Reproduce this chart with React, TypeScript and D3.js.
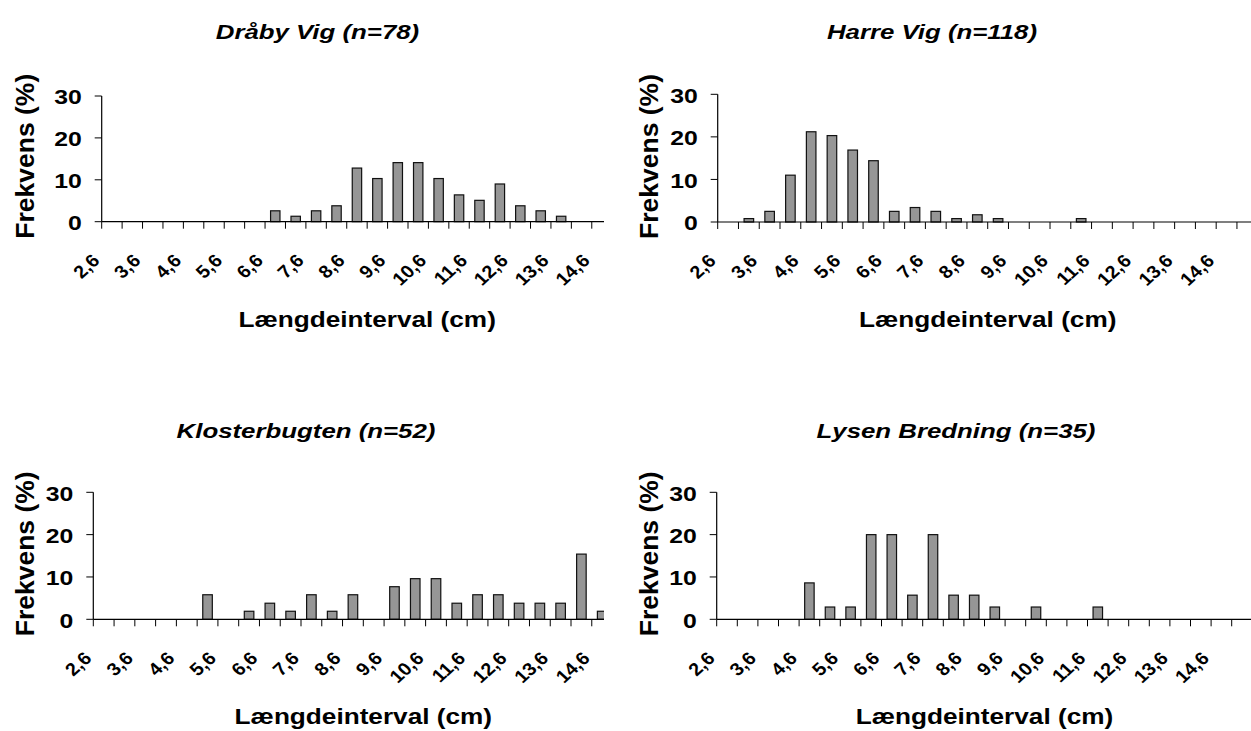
import React from "react";
import * as d3 from "d3";

const categories = [
  "2,6", "3,1", "3,6", "4,1", "4,6", "5,1", "5,6", "6,1", "6,6", "7,1",
  "7,6", "8,1", "8,6", "9,1", "9,6", "10,1", "10,6", "11,1", "11,6", "12,1",
  "12,6", "13,1", "13,6", "14,1", "14,6", "15,1",
];
const yTicks = [0, 10, 20, 30];

const titles = ["Dråby Vig (n=78)", "Harre Vig (n=118)", "Klosterbugten (n=52)", "Lysen Bredning (n=35)"];

const draabyVig = [0, 0, 0, 0, 0, 0, 0, 0, 2.6, 1.3, 2.6, 3.8, 12.8, 10.3, 14.1, 14.1, 10.3, 6.4, 5.1, 9.0, 3.8, 2.6, 1.3, 0, 0, 0];
const harreVig = [0, 0.8, 2.5, 11.0, 21.2, 20.3, 16.9, 14.4, 2.5, 3.4, 2.5, 0.8, 1.7, 0.8, 0, 0, 0, 0.8, 0, 0, 0, 0, 0, 0, 0, 0];
const klosterbugten = [0, 0, 0, 0, 0, 5.8, 0, 1.9, 3.8, 1.9, 5.8, 1.9, 5.8, 0, 7.7, 9.6, 9.6, 3.8, 5.8, 5.8, 3.8, 3.8, 3.8, 15.4, 1.9, 0];
const lysenBredning = [0, 0, 0, 0, 8.6, 2.9, 2.9, 20, 20, 5.7, 20, 5.7, 5.7, 2.9, 0, 2.9, 0, 0, 2.9, 0, 0, 0, 0, 0, 0, 0];

const yTitle = "Frekvens (%)";
const xTitle = "Længdeinterval (cm)";

const FONT = "'Liberation Sans', Arial, sans-serif";

type Layout = {
  x0: number; step: number; y0: number; y30: number; clipRight: number;
  titleX: number; titleY: number; yTitleX: number;
};

const layouts: Layout[] = [
  { x0: 101.7, step: 20.42, y0: 221.7, y30: 96, clipRight: 604, titleX: 317.5, titleY: 38.5, yTitleX: 33.5 },
  { x0: 717.7, step: 20.77, y0: 222, y30: 94.3, clipRight: 1251, titleX: 932, titleY: 38.5, yTitleX: 657.5 },
  { x0: 93.3, step: 20.77, y0: 619.3, y30: 492.3, clipRight: 604, titleX: 306, titleY: 437.5, yTitleX: 33.5 },
  { x0: 716.7, step: 20.6, y0: 619.3, y30: 492.3, clipRight: 1251, titleX: 956, titleY: 437.5, yTitleX: 657.5 },
];

const series = [draabyVig, harreVig, klosterbugten, lysenBredning];

function Panel({ idx }: { idx: number }) {
  const L = layouts[idx];
  const values = series[idx];
  const n = categories.length;
  const x = d3.scaleBand<string>().domain(categories).range([L.x0, L.x0 + n * L.step]).paddingInner(0.54).paddingOuter(0.27);
  const y = d3.scaleLinear().domain([0, 30]).range([L.y0, L.y30]);
  const step = x.step();
  const tickXs = d3.range(n + 1).map((i) => L.x0 + i * step);
  const clipId = `clip${idx}`;
  const plotCenter = L.x0 + (n * step) / 2;
  return (
    <g>
      <defs>
        <clipPath id={clipId}>
          <rect x={0} y={0} width={L.clipRight} height={731} />
        </clipPath>
      </defs>
      <text
        transform={`translate(${L.titleX},${L.titleY}) scale(1.23,1)`}
        textAnchor="middle"
        fontFamily={FONT}
        fontWeight="bold"
        fontStyle="italic"
        fontSize={21}
      >
        {titles[idx]}
      </text>
      <g clipPath={`url(#${clipId})`}>
        {categories.map((c, i) =>
          values[i] > 0 ? (
            <rect
              key={c}
              x={x(c)}
              y={y(values[i])}
              width={x.bandwidth()}
              height={y(0) - y(values[i])}
              fill="#969696"
              stroke="#111"
              strokeWidth={1.2}
            />
          ) : null
        )}
        <line x1={L.x0} x2={L.x0 + n * step} y1={L.y0} y2={L.y0} stroke="#000" strokeWidth={1.2} />
        {tickXs.map((tx, i) => (
          <line key={i} x1={tx} x2={tx} y1={L.y0} y2={L.y0 + 7} stroke="#000" strokeWidth={1} />
        ))}
      </g>
      <line x1={L.x0} x2={L.x0} y1={L.y30} y2={L.y0} stroke="#000" strokeWidth={1.2} />
      {yTicks.map((t) => (
        <g key={t}>
          <line x1={L.x0 - 7} x2={L.x0} y1={y(t)} y2={y(t)} stroke="#000" strokeWidth={1} />
          <text
            transform={`translate(${L.x0 - 20},${y(t) + 1}) scale(1.18,1)`}
            textAnchor="end"
            dominantBaseline="central"
            fontFamily={FONT}
            fontWeight="bold"
            fontSize={21}
          >
            {t}
          </text>
        </g>
      ))}
      {categories.map((c, i) =>
        i % 2 === 0 ? (
          <text
            key={c}
            transform={`translate(${(x(c) as number) + x.bandwidth() / 2 - 11},${L.y0 + 40}) scale(1.1,1) rotate(-45)`}
            textAnchor="end"
            fontFamily={FONT}
            fontWeight="bold"
            fontSize={18}
          >
            {c}
          </text>
        ) : null
      )}
      <text
        transform={`translate(${L.yTitleX},${L.y0 + 17}) rotate(-90)`}
        textAnchor="start"
        fontFamily={FONT}
        fontWeight="bold"
        fontSize={26.5}
      >
        {yTitle}
      </text>
      <text
        transform={`translate(${plotCenter},${L.y0 + 105}) scale(1.19,1)`}
        textAnchor="middle"
        fontFamily={FONT}
        fontWeight="bold"
        fontSize={22}
      >
        {xTitle}
      </text>
    </g>
  );
}

export default function App() {
  return (
    <svg
      width={1251}
      height={731}
      style={{ position: "fixed", left: 0, top: 0, background: "#fff" }}
    >
      <rect x={0} y={0} width={1251} height={731} fill="#fff" />
      {layouts.map((_, i) => (
        <Panel key={i} idx={i} />
      ))}
    </svg>
  );
}
